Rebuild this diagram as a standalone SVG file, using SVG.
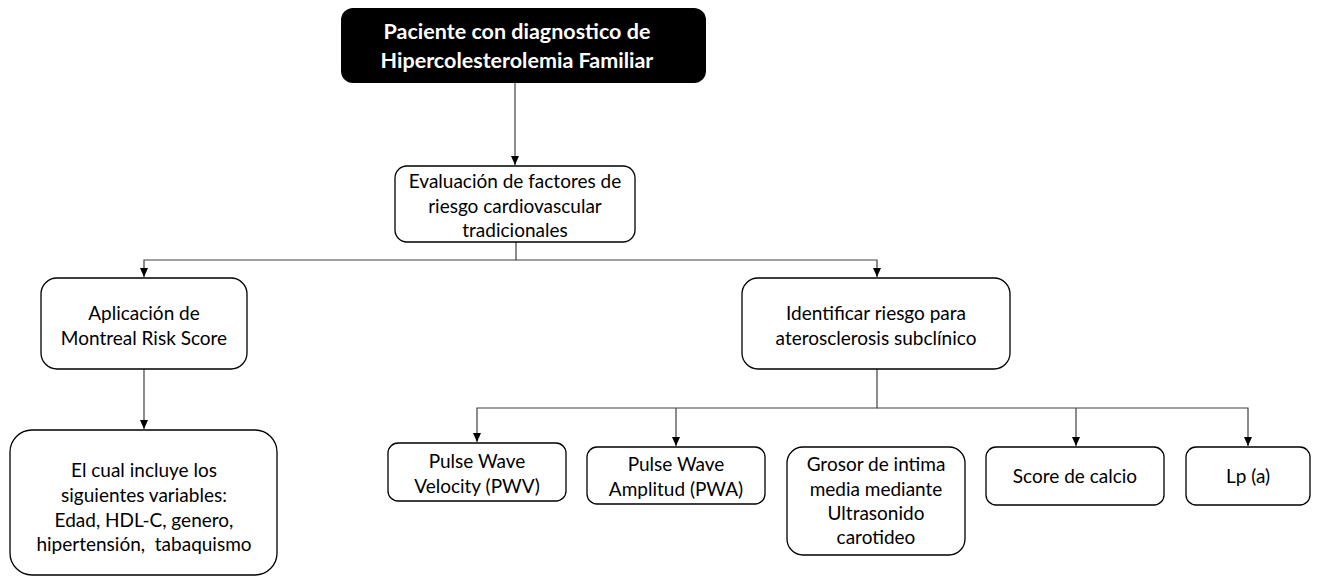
<svg xmlns="http://www.w3.org/2000/svg" width="1319" height="576" viewBox="0 0 1319 576">
<style>
.box{fill:#fff;stroke:#000;stroke-width:1.3}
.t{font-family:Lato,"Liberation Sans",sans-serif;font-size:19px;fill:#000;text-anchor:middle}
.tb{font-family:Lato,"Liberation Sans",sans-serif;font-size:21.5px;font-weight:bold;fill:#fff;text-anchor:middle}
.c{fill:none;stroke:#404040;stroke-width:1.2}
</style>
<defs>
<marker id="arr" markerWidth="10" markerHeight="10" refX="9" refY="5" orient="auto" markerUnits="userSpaceOnUse">
<path d="M0,1 L9,5 L0,9 Z" fill="#000"/>
</marker>
</defs>
<rect width="1319" height="576" fill="#fff"/>
<g id="connectors">
<path class="c" d="M515,83 V165" marker-end="url(#arr)"/>
<path class="c" d="M516,242 V260 H144 V277" marker-end="url(#arr)"/>
<path class="c" d="M516,260 H877 V277" marker-end="url(#arr)"/>
<path class="c" d="M144,369 V429" marker-end="url(#arr)"/>
<path class="c" d="M877,369 V408 H477 V442" marker-end="url(#arr)"/>
<path class="c" d="M676,408 V446" marker-end="url(#arr)"/>
<path class="c" d="M877,408 H1248 V446" marker-end="url(#arr)"/>
<path class="c" d="M1076,408 V446" marker-end="url(#arr)"/>
</g>
<g id="n-paciente">
<rect x="341" y="8" width="365" height="75" rx="12" fill="#000"/>
<text class="tb" x="517" y="39">Paciente con diagnostico de</text>
<text class="tb" x="517" y="68">Hipercolesterolemia Familiar</text>
</g>
<g id="n-evaluacion">
<rect class="box" x="395" y="166" width="240" height="76" rx="12"/>
<text class="t" x="515" y="188">Evaluación de factores de</text>
<text class="t" x="515" y="213">riesgo cardiovascular</text>
<text class="t" x="515" y="237">tradicionales</text>
</g>
<g id="n-montreal">
<rect class="box" x="41" y="278" width="206" height="91" rx="16"/>
<text class="t" x="144" y="320">Aplicación de</text>
<text class="t" x="144" y="345">Montreal Risk Score</text>
</g>
<g id="n-identificar">
<rect class="box" x="742" y="278" width="268" height="91" rx="16"/>
<text class="t" x="876" y="320">Identificar riesgo para</text>
<text class="t" x="876" y="345">aterosclerosis subclínico</text>
</g>
<g id="n-variables">
<rect class="box" x="10" y="430" width="267" height="145" rx="22"/>
<text class="t" x="144" y="477">El cual incluye los</text>
<text class="t" x="144" y="502">siguientes variables:</text>
<text class="t" x="144" y="527">Edad, HDL-C, genero,</text>
<text class="t" x="144" y="551">hipertensión,&#160; tabaquismo</text>
</g>
<g id="n-pwv">
<rect class="box" x="388" y="443" width="178" height="58" rx="10"/>
<text class="t" x="477" y="468">Pulse Wave</text>
<text class="t" x="477" y="493">Velocity (PWV)</text>
</g>
<g id="n-pwa">
<rect class="box" x="587" y="447" width="178" height="57" rx="10"/>
<text class="t" x="676" y="471">Pulse Wave</text>
<text class="t" x="676" y="496">Amplitud (PWA)</text>
</g>
<g id="n-grosor">
<rect class="box" x="787" y="447" width="178" height="108" rx="16"/>
<text class="t" x="876" y="471">Grosor de intima</text>
<text class="t" x="876" y="496">media mediante</text>
<text class="t" x="876" y="520">Ultrasonido</text>
<text class="t" x="876" y="544">carotideo</text>
</g>
<g id="n-calcio">
<rect class="box" x="986" y="447" width="178" height="58" rx="10"/>
<text class="t" x="1075" y="483">Score de calcio</text>
</g>
<g id="n-lpa">
<rect class="box" x="1186" y="447" width="124" height="58" rx="10"/>
<text class="t" x="1248" y="483">Lp (a)</text>
</g>
</svg>
